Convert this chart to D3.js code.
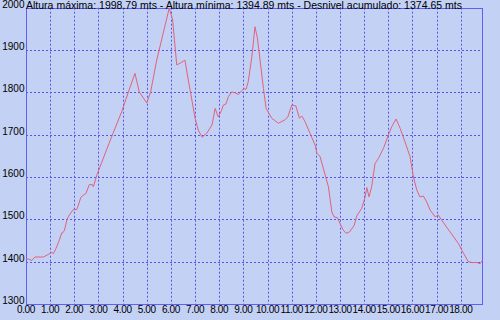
<!DOCTYPE html>
<html>
<head>
<meta charset="utf-8">
<script src="https://cdn.jsdelivr.net/npm/d3@7"></script>
<style>
  html, body { margin: 0; padding: 0; background: #c3d1f4; }
  svg { display: block; }
  text { font-family: "Liberation Sans", Arial, sans-serif; font-size: 10px; fill: #000; }
</style>
</head>
<body>
<svg id="chart" width="500" height="320"></svg>
<script>
const title = "Altura máxima: 1998.79 mts - Altura mínima: 1394.89 mts - Desnivel acumulado: 1374.65 mts";
const xTicks = [0,1,2,3,4,5,6,7,8,9,10,11,12,13,14,15,16,17,18];
const yTicks = [1300,1400,1500,1600,1700,1800,1900,2000];
const distance = [0.00,0.10,0.24,0.37,0.72,0.92,1.06,1.13,1.24,1.38,1.48,1.52,1.59,1.69,1.75,1.89,1.96,2.10,2.17,2.27,2.37,2.48,2.62,2.75,2.79,2.93,3.44,3.96,4.24,4.51,4.69,5.00,5.16,5.41,5.93,6.07,6.24,6.38,6.58,6.72,7.00,7.13,7.29,7.49,7.70,7.83,7.96,8.10,8.17,8.27,8.38,8.52,8.65,8.79,8.93,9.03,9.11,9.20,9.35,9.48,9.58,9.69,9.83,9.94,10.17,10.45,10.72,10.84,11.00,11.17,11.32,11.42,11.55,11.76,11.97,12.04,12.17,12.31,12.52,12.66,12.75,12.89,13.00,13.14,13.25,13.39,13.59,13.69,13.90,14.04,14.11,14.20,14.31,14.45,14.59,14.80,15.00,15.14,15.32,15.49,15.69,15.90,16.04,16.18,16.31,16.45,16.59,16.73,16.94,17.07,17.21,17.56,17.90,18.11,18.31,18.46,18.67,18.80,18.89];
const altitude = [1406,1406,1403,1411,1411,1417,1422,1419,1431,1451,1468,1468,1474,1498,1506,1518,1523,1523,1534,1552,1557,1561,1582,1582,1577,1604,1680,1754,1801,1845,1801,1775,1801,1876,1999,1971,1865,1869,1876,1829,1739,1711,1694,1704,1723,1762,1742,1758,1770,1772,1790,1801,1799,1795,1804,1809,1807,1825,1884,1955,1928,1876,1809,1762,1739,1727,1735,1742,1770,1768,1739,1744,1731,1703,1675,1656,1649,1620,1577,1518,1506,1504,1490,1474,1467,1470,1486,1508,1526,1553,1575,1553,1577,1632,1644,1668,1699,1719,1737,1715,1683,1648,1600,1569,1553,1555,1541,1522,1506,1510,1498,1470,1443,1420,1400,1398,1398,1395,1403];

const svg = d3.select("#chart");
const L = 26, R = 482.3, T = 7.7, B = 304;
const x = d3.scaleLinear().domain([0, 18.89]).range([L, R]);
const y = d3.scaleLinear().domain([1300, 2000]).range([B, T]);

svg.append("rect").attr("x",0).attr("y",0).attr("width",500).attr("height",320).attr("fill","#c3d1f4");

// grid
const grid = svg.append("g").attr("stroke","#5656ee").attr("stroke-width",1).attr("stroke-dasharray","2,2");
grid.selectAll("line.v").data(xTicks.filter(d => d > 0)).enter().append("line")
  .attr("x1", d => Math.round(x(d)) + 0.5).attr("x2", d => Math.round(x(d)) + 0.5)
  .attr("y1", T).attr("y2", B);
grid.selectAll("line.h").data(yTicks.filter(d => d > 1300 && d < 2000)).enter().append("line")
  .attr("y1", d => Math.round(y(d)) + 0.5).attr("y2", d => Math.round(y(d)) + 0.5)
  .attr("x1", L).attr("x2", R);

// frame
svg.append("rect").attr("x", Math.round(L)+0.5).attr("y", Math.round(T)+0.5)
  .attr("width", Math.round(R)-Math.round(L)).attr("height", Math.round(B)-Math.round(T))
  .attr("fill","none").attr("stroke","#5f5ff5").attr("stroke-width",1);

// profile line
const line = d3.line().x((d,i) => x(distance[i])).y(d => y(d));
svg.append("path").datum(altitude).attr("d", line)
  .attr("fill","none").attr("stroke","#e3627a").attr("stroke-width",1);

// axis labels
svg.append("g").selectAll("text").data(xTicks).enter().append("text")
  .attr("x", d => x(d)).attr("y", 313.3).attr("text-anchor","middle")
  .style("letter-spacing","-0.35px")
  .text(d => d.toFixed(2));
svg.append("g").selectAll("text").data(yTicks).enter().append("text")
  .attr("x", 24.5).attr("y", d => y(d)).attr("text-anchor","end")
  .text(d => d);

// title
svg.append("text").attr("x", 26).attr("y", 9.3)
  .attr("textLength", 436).attr("lengthAdjust","spacingAndGlyphs")
  .text(title);
</script>
</body>
</html>
